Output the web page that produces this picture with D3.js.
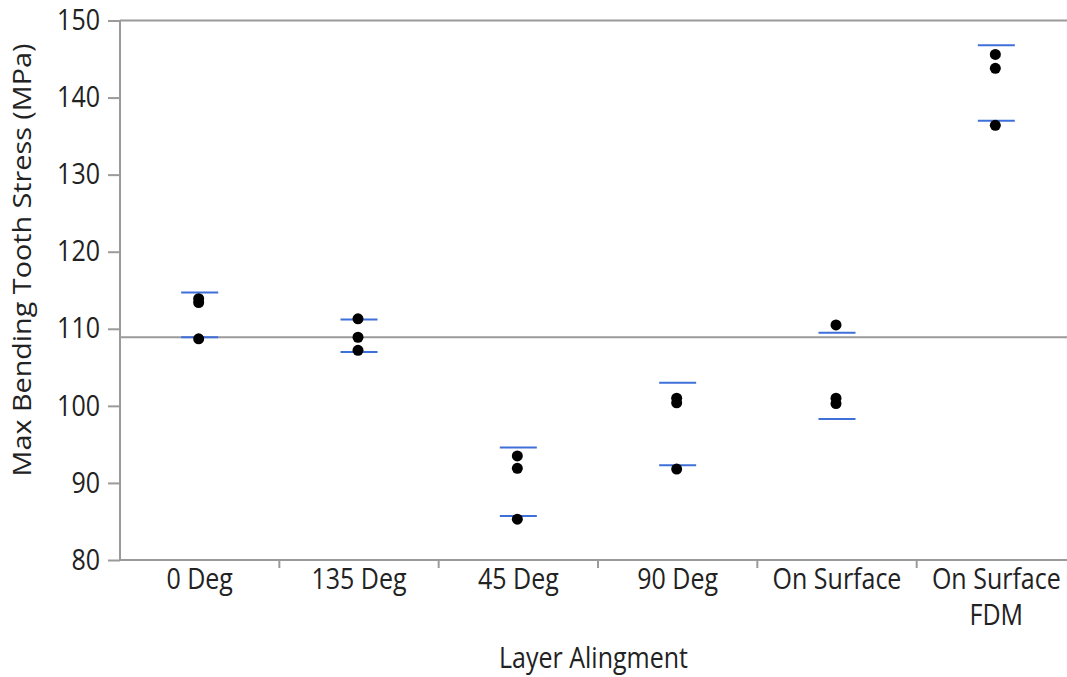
<!DOCTYPE html>
<html>
<head>
<meta charset="utf-8">
<script src="https://cdn.jsdelivr.net/npm/d3@7"></script>
<style>
  body { margin: 0; background: #fff; }
  svg { display: block; }
  text { font-family: "Open Sans", "Noto Sans", sans-serif; fill: #222; }
  .axis path, .axis line { stroke: #9a9a9a; stroke-width: 2; }
</style>
</head>
<body>
<svg width="1067" height="677"></svg>
<script>
// layer alignments on the x axis
var categories = ['0 Deg', '135 Deg', '45 Deg', '90 Deg', 'On Surface', 'On Surface\nFDM'];

// three specimens per alignment (MPa)
var specimens = [
    [113.9, 113.4, 108.7],
    [111.3, 108.9, 107.2],
    [93.5, 91.9, 85.3],
    [101.0, 100.4, 91.8],
    [110.5, 101.0, 100.3],
    [145.6, 143.8, 136.4]
];

// blue bars above and below each group
var upperBar = [114.7, 111.2, 94.6, 103.0, 109.5, 146.8];
var lowerBar = [108.9, 107.0, 85.7, 92.3, 98.3, 137.0];

// grand mean line
var grandMean = 108.9;

var yTicks = [80, 90, 100, 110, 120, 130, 140, 150];

var svg = d3.select('svg');
var svgWidth = +svg.attr('width');

var plot = {l: 120, t: 20.5, b: 560, r: 1076};
var fontSize = 25;
var stretch = 1.15; // text in the picture is a bit tall

var x = d3.scaleBand()
    .domain(categories)
    .range([plot.l, plot.r])
    .padding(0);

var y = d3.scaleLinear()
    .domain([80, 150])
    .range([plot.b, plot.t]);

// frame top line
svg.append('line')
    .attr('x1', plot.l).attr('x2', svgWidth)
    .attr('y1', y(150)).attr('y2', y(150))
    .attr('stroke', '#9a9a9a').attr('stroke-width', 2);

// y axis
var yAxis = svg.append('g')
    .attr('class', 'axis')
    .attr('transform', 'translate(' + plot.l + ',0)')
    .call(d3.axisLeft(y).tickValues(yTicks).tickSize(12).tickSizeOuter(0).tickPadding(8));
yAxis.selectAll('text')
    .style('font-size', fontSize + 'px')
    .attr('fill', '#222')
    .attr('transform', 'scale(1,' + stretch + ')');
yAxis.select('.domain').attr('d', 'M0,' + y(80) + 'V' + y(150));

// x axis
var xAxis = svg.append('g')
    .attr('class', 'axis')
    .attr('transform', 'translate(0,' + plot.b + ')')
    .call(d3.axisBottom(x).tickSize(0).tickSizeOuter(0).tickFormat(''));
xAxis.select('.domain').attr('d', 'M' + plot.l + ',0H' + svgWidth);

// ticks at the band boundaries
xAxis.selectAll('.sep')
    .data(categories.slice(0, categories.length - 1))
    .enter().append('line')
    .attr('class', 'sep')
    .attr('x1', function(d) { return x(d) + x.bandwidth(); })
    .attr('x2', function(d) { return x(d) + x.bandwidth(); })
    .attr('y1', 0).attr('y2', 8);

// category labels, split on newline
var labels = xAxis.selectAll('.lab')
    .data(categories)
    .enter().append('g')
    .attr('class', 'lab')
    .attr('transform', function(d) {
        return 'translate(' + (x(d) + x.bandwidth() / 2) + ',29) scale(1,' + stretch + ')';
    })
    .append('text')
    .attr('text-anchor', 'middle')
    .style('font-size', fontSize + 'px');
labels.selectAll('tspan')
    .data(function(d) { return d.split('\n'); })
    .enter().append('tspan')
    .attr('x', 0)
    .attr('dy', function(d, i) { return i === 0 ? 0 : 31; })
    .text(function(d) { return d; });

// grand mean
svg.append('line')
    .attr('x1', plot.l).attr('x2', svgWidth)
    .attr('y1', y(grandMean)).attr('y2', y(grandMean))
    .attr('stroke', '#9a9a9a').attr('stroke-width', 2);

// blue bars
var barHalf = 18.5;
var bars = [];
categories.forEach(function(c, i) {
    bars.push({c: c, v: upperBar[i]});
    bars.push({c: c, v: lowerBar[i]});
});
svg.selectAll('.bar')
    .data(bars)
    .enter().append('line')
    .attr('class', 'bar')
    .attr('x1', function(d) { return x(d.c) + x.bandwidth() / 2 - barHalf; })
    .attr('x2', function(d) { return x(d.c) + x.bandwidth() / 2 + barHalf; })
    .attr('y1', function(d) { return y(d.v); })
    .attr('y2', function(d) { return y(d.v); })
    .attr('stroke', '#3f6fd8').attr('stroke-width', 2);

// specimen points
var pts = [];
categories.forEach(function(c, i) {
    specimens[i].forEach(function(v) { pts.push({c: c, v: v}); });
});
svg.selectAll('.pt')
    .data(pts)
    .enter().append('circle')
    .attr('class', 'pt')
    .attr('cx', function(d) { return x(d.c) + x.bandwidth() / 2 - 1; })
    .attr('cy', function(d) { return y(d.v); })
    .attr('r', 5.5)
    .attr('fill', '#000');

// axis titles
svg.append('text')
    .attr('transform', 'translate(' + ((plot.l + svgWidth) / 2) + ',668) scale(1,' + stretch + ')')
    .attr('text-anchor', 'middle')
    .style('font-size', fontSize + 'px')
    .text('Layer Alingment');

svg.append('text')
    .attr('transform', 'translate(31,260) rotate(-90) scale(' + stretch + ',1)')
    .attr('text-anchor', 'middle')
    .style('font-size', fontSize + 'px')
    .text('Max Bending Tooth Stress (MPa)');
</script>
</body>
</html>
